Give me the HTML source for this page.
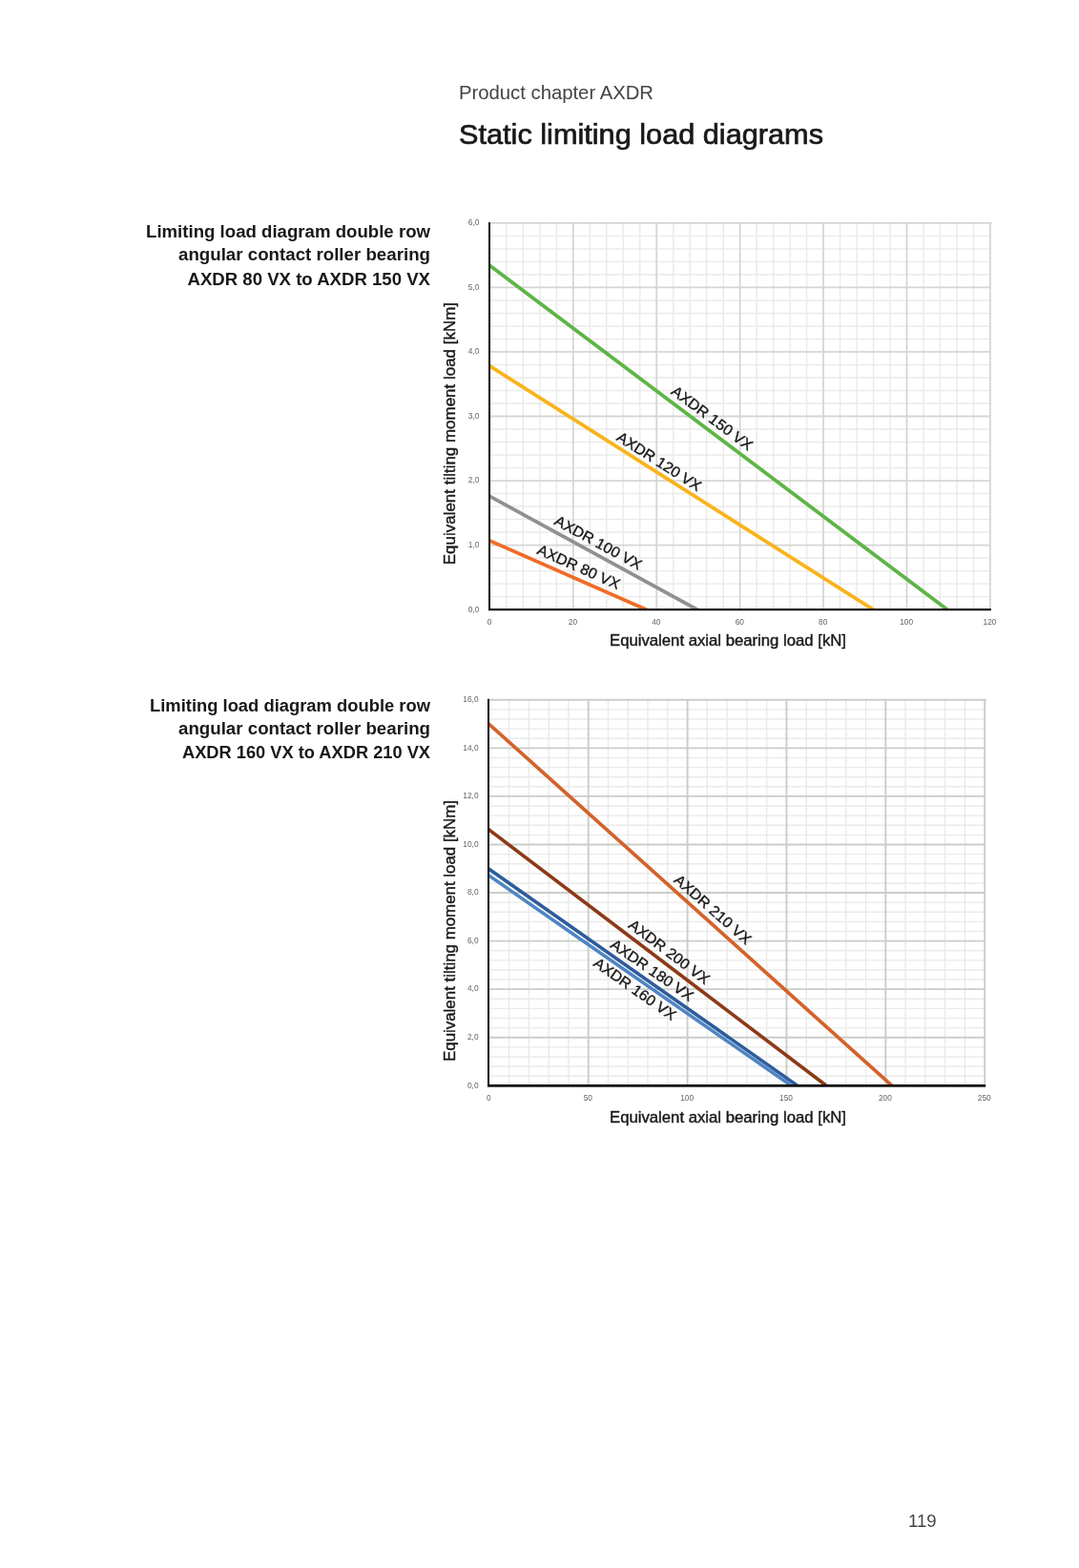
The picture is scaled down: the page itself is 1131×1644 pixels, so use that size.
<!DOCTYPE html>
<html lang="en">
<head>
<meta charset="utf-8">
<title>Static limiting load diagrams</title>
<style>
html,body{margin:0;padding:0;background:#fff;}
body{width:1131px;height:1644px;overflow:hidden;position:relative;font-family:"Liberation Sans", Arial, Helvetica, sans-serif;}
svg{position:absolute;left:0;top:0;display:block;}
svg text{font-family:"Liberation Sans", Arial, Helvetica, sans-serif;}
</style>
</head>
<body>
<svg width="1131" height="1644" viewBox="0 0 1131 1644">
<rect width="1131" height="1644" fill="#ffffff"/>
<text x="481" y="104" font-size="20.8" fill="#454343" textLength="204" lengthAdjust="spacingAndGlyphs">Product chapter AXDR</text>
<text x="481" y="151" font-size="29.8" fill="#1a1718" stroke="#1a1718" stroke-width="0.7" textLength="382" lengthAdjust="spacingAndGlyphs">Static limiting load diagrams</text>
<g font-size="18" font-weight="bold" fill="#1a1718" text-anchor="end">
<text x="451" y="248.8" textLength="298" lengthAdjust="spacingAndGlyphs">Limiting load diagram double row</text>
<text x="451" y="273.4" textLength="264" lengthAdjust="spacingAndGlyphs">angular contact roller bearing</text>
<text x="451" y="298.6" textLength="254.5" lengthAdjust="spacingAndGlyphs">AXDR 80 VX to AXDR 150 VX</text>
<text x="451" y="745.6" textLength="294" lengthAdjust="spacingAndGlyphs">Limiting load diagram double row</text>
<text x="451" y="769.6" textLength="264" lengthAdjust="spacingAndGlyphs">angular contact roller bearing</text>
<text x="451" y="795.3" textLength="260" lengthAdjust="spacingAndGlyphs">AXDR 160 VX to AXDR 210 VX</text>
</g>
<path d="M530.88 233.90V639.10M548.37 233.90V639.10M565.85 233.90V639.10M583.33 233.90V639.10M618.30 233.90V639.10M635.78 233.90V639.10M653.27 233.90V639.10M670.75 233.90V639.10M705.72 233.90V639.10M723.20 233.90V639.10M740.68 233.90V639.10M758.17 233.90V639.10M793.13 233.90V639.10M810.62 233.90V639.10M828.10 233.90V639.10M845.58 233.90V639.10M880.55 233.90V639.10M898.03 233.90V639.10M915.52 233.90V639.10M933.00 233.90V639.10M967.97 233.90V639.10M985.45 233.90V639.10M1002.93 233.90V639.10M1020.42 233.90V639.10M513.40 247.41H1037.90M513.40 260.91H1037.90M513.40 274.42H1037.90M513.40 287.93H1037.90M513.40 314.94H1037.90M513.40 328.45H1037.90M513.40 341.95H1037.90M513.40 355.46H1037.90M513.40 382.47H1037.90M513.40 395.98H1037.90M513.40 409.49H1037.90M513.40 422.99H1037.90M513.40 450.01H1037.90M513.40 463.51H1037.90M513.40 477.02H1037.90M513.40 490.53H1037.90M513.40 517.54H1037.90M513.40 531.05H1037.90M513.40 544.55H1037.90M513.40 558.06H1037.90M513.40 585.07H1037.90M513.40 598.58H1037.90M513.40 612.09H1037.90M513.40 625.59H1037.90" stroke="#eaeae9" stroke-width="1.4" fill="none"/>
<path d="M600.82 232.90V639.10M688.23 232.90V639.10M775.65 232.90V639.10M863.07 232.90V639.10M950.48 232.90V639.10M1037.90 232.90V639.10M513.40 233.90H1039.40M513.40 301.43H1038.80M513.40 368.97H1038.80M513.40 436.50H1038.80M513.40 504.03H1038.80M513.40 571.57H1038.80" stroke="#d5d6d4" stroke-width="1.8" fill="none"/>
<clipPath id="clip639"><rect x="513.00" y="228.90" width="529.90" height="410.20"/></clipPath>
<g clip-path="url(#clip639)">
<line x1="509.80" y1="275.63" x2="996.08" y2="641.50" stroke="#5fb446" stroke-width="3.8"/>
<line x1="509.62" y1="381.41" x2="918.63" y2="641.24" stroke="#f9b31b" stroke-width="3.8"/>
<line x1="509.49" y1="518.15" x2="734.27" y2="641.02" stroke="#8f9190" stroke-width="3.8"/>
<line x1="509.34" y1="565.17" x2="680.97" y2="640.71" stroke="#f06b26" stroke-width="3.8"/>
</g>
<path d="M513.00 232.90V639.10" stroke="#0c0a0b" stroke-width="2.0" fill="none"/>
<path d="M511.95 639.10H1038.90" stroke="#161314" stroke-width="2.3" fill="none"/>
<g font-size="8.15" fill="#666666">
<text transform="translate(502.5 236.30) scale(1.03 1)" text-anchor="end">6,0</text>
<text transform="translate(502.5 303.83) scale(1.03 1)" text-anchor="end">5,0</text>
<text transform="translate(502.5 371.37) scale(1.03 1)" text-anchor="end">4,0</text>
<text transform="translate(502.5 438.90) scale(1.03 1)" text-anchor="end">3,0</text>
<text transform="translate(502.5 506.43) scale(1.03 1)" text-anchor="end">2,0</text>
<text transform="translate(502.5 573.97) scale(1.03 1)" text-anchor="end">1,0</text>
<text transform="translate(502.5 641.50) scale(1.03 1)" text-anchor="end">0,0</text>
<text transform="translate(513.00 655.1) scale(1.02 1)" text-anchor="middle">0</text>
<text transform="translate(600.42 655.1) scale(1.02 1)" text-anchor="middle">20</text>
<text transform="translate(687.83 655.1) scale(1.02 1)" text-anchor="middle">40</text>
<text transform="translate(775.25 655.1) scale(1.02 1)" text-anchor="middle">60</text>
<text transform="translate(862.67 655.1) scale(1.02 1)" text-anchor="middle">80</text>
<text transform="translate(950.08 655.1) scale(1.02 1)" text-anchor="middle">100</text>
<text transform="translate(1037.50 655.1) scale(1.02 1)" text-anchor="middle">120</text>
</g>
<text transform="translate(702.6 412.3) rotate(36.7)" font-size="15.5" fill="#1a1718" stroke="#1a1718" stroke-width="0.35" textLength="101.5" lengthAdjust="spacingAndGlyphs">AXDR 150 VX</text>
<text transform="translate(645.2 460.9) rotate(32.5)" font-size="15.5" fill="#1a1718" stroke="#1a1718" stroke-width="0.35" textLength="101.5" lengthAdjust="spacingAndGlyphs">AXDR 120 VX</text>
<text transform="translate(580 549.3) rotate(28.5)" font-size="15.5" fill="#1a1718" stroke="#1a1718" stroke-width="0.35" textLength="101.5" lengthAdjust="spacingAndGlyphs">AXDR 100 VX</text>
<text transform="translate(562 580.3) rotate(24.0)" font-size="15.5" fill="#1a1718" stroke="#1a1718" stroke-width="0.35" textLength="93" lengthAdjust="spacingAndGlyphs">AXDR 80 VX</text>
<text x="763" y="676.8" font-size="16.3" fill="#1a1718" stroke="#1a1718" stroke-width="0.4" text-anchor="middle" textLength="248" lengthAdjust="spacingAndGlyphs">Equivalent axial bearing load [kN]</text>
<text transform="translate(476.6 454.6) rotate(-90)" font-size="16.3" fill="#1a1718" stroke="#1a1718" stroke-width="0.4" text-anchor="middle" textLength="275.2" lengthAdjust="spacingAndGlyphs">Equivalent tilting moment load [kNm]</text>
<path d="M533.58 733.80V1138.30M554.35 733.80V1138.30M575.13 733.80V1138.30M595.90 733.80V1138.30M637.46 733.80V1138.30M658.23 733.80V1138.30M679.01 733.80V1138.30M699.78 733.80V1138.30M741.34 733.80V1138.30M762.11 733.80V1138.30M782.89 733.80V1138.30M803.66 733.80V1138.30M845.22 733.80V1138.30M865.99 733.80V1138.30M886.77 733.80V1138.30M907.54 733.80V1138.30M949.10 733.80V1138.30M969.87 733.80V1138.30M990.65 733.80V1138.30M1011.42 733.80V1138.30M512.80 743.91H1032.20M512.80 754.02H1032.20M512.80 764.14H1032.20M512.80 774.25H1032.20M512.80 794.47H1032.20M512.80 804.59H1032.20M512.80 814.70H1032.20M512.80 824.81H1032.20M512.80 845.04H1032.20M512.80 855.15H1032.20M512.80 865.26H1032.20M512.80 875.38H1032.20M512.80 895.60H1032.20M512.80 905.71H1032.20M512.80 915.82H1032.20M512.80 925.94H1032.20M512.80 946.16H1032.20M512.80 956.27H1032.20M512.80 966.39H1032.20M512.80 976.50H1032.20M512.80 996.72H1032.20M512.80 1006.84H1032.20M512.80 1016.95H1032.20M512.80 1027.06H1032.20M512.80 1047.29H1032.20M512.80 1057.40H1032.20M512.80 1067.51H1032.20M512.80 1077.62H1032.20M512.80 1097.85H1032.20M512.80 1107.96H1032.20M512.80 1118.07H1032.20M512.80 1128.19H1032.20" stroke="#eaeae9" stroke-width="1.4" fill="none"/>
<path d="M616.68 732.80V1138.30M720.56 732.80V1138.30M824.44 732.80V1138.30M928.32 732.80V1138.30M1032.20 732.80V1138.30M512.80 733.80H1033.70M512.80 784.36H1033.10M512.80 834.92H1033.10M512.80 885.49H1033.10M512.80 936.05H1033.10M512.80 986.61H1033.10M512.80 1037.17H1033.10M512.80 1087.74H1033.10" stroke="#cacdc9" stroke-width="1.9" fill="none"/>
<clipPath id="clip1138"><rect x="512.00" y="728.80" width="525.20" height="409.50"/></clipPath>
<g clip-path="url(#clip1138)">
<line x1="509.02" y1="756.00" x2="937.95" y2="1140.97" stroke="#d2632b" stroke-width="3.7"/>
<line x1="508.81" y1="867.08" x2="869.39" y2="1140.72" stroke="#8c3a17" stroke-width="3.7"/>
<line x1="508.73" y1="908.52" x2="839.14" y2="1140.60" stroke="#2d5c9c" stroke-width="3.6"/>
<line x1="508.72" y1="915.37" x2="832.71" y2="1140.58" stroke="#4e84c3" stroke-width="3.6"/>
</g>
<path d="M512.00 732.80V1138.30" stroke="#0c0a0b" stroke-width="2.0" fill="none"/>
<path d="M510.95 1138.30H1033.20" stroke="#161314" stroke-width="2.8" fill="none"/>
<g font-size="8.15" fill="#666666">
<text transform="translate(501.6 736.00) scale(1.03 1)" text-anchor="end">16,0</text>
<text transform="translate(501.6 786.56) scale(1.03 1)" text-anchor="end">14,0</text>
<text transform="translate(501.6 837.12) scale(1.03 1)" text-anchor="end">12,0</text>
<text transform="translate(501.6 887.69) scale(1.03 1)" text-anchor="end">10,0</text>
<text transform="translate(501.6 938.25) scale(1.03 1)" text-anchor="end">8,0</text>
<text transform="translate(501.6 988.81) scale(1.03 1)" text-anchor="end">6,0</text>
<text transform="translate(501.6 1039.38) scale(1.03 1)" text-anchor="end">4,0</text>
<text transform="translate(501.6 1089.94) scale(1.03 1)" text-anchor="end">2,0</text>
<text transform="translate(501.6 1140.50) scale(1.03 1)" text-anchor="end">0,0</text>
<text transform="translate(512.40 1154.3) scale(1.02 1)" text-anchor="middle">0</text>
<text transform="translate(616.28 1154.3) scale(1.02 1)" text-anchor="middle">50</text>
<text transform="translate(720.16 1154.3) scale(1.02 1)" text-anchor="middle">100</text>
<text transform="translate(824.04 1154.3) scale(1.02 1)" text-anchor="middle">150</text>
<text transform="translate(927.92 1154.3) scale(1.02 1)" text-anchor="middle">200</text>
<text transform="translate(1031.80 1154.3) scale(1.02 1)" text-anchor="middle">250</text>
</g>
<text transform="translate(705.5 924.0) rotate(41.3)" font-size="15.5" fill="#1a1718" stroke="#1a1718" stroke-width="0.35" textLength="101.5" lengthAdjust="spacingAndGlyphs">AXDR 210 VX</text>
<text transform="translate(657.8 971.7) rotate(37)" font-size="15.5" fill="#1a1718" stroke="#1a1718" stroke-width="0.35" textLength="101.5" lengthAdjust="spacingAndGlyphs">AXDR 200 VX</text>
<text transform="translate(638.7 992.7) rotate(34.5)" font-size="15.5" fill="#1a1718" stroke="#1a1718" stroke-width="0.35" textLength="101.5" lengthAdjust="spacingAndGlyphs">AXDR 180 VX</text>
<text transform="translate(620.9 1012.0) rotate(35.1)" font-size="15.5" fill="#1a1718" stroke="#1a1718" stroke-width="0.35" textLength="101.5" lengthAdjust="spacingAndGlyphs">AXDR 160 VX</text>
<text x="763" y="1177" font-size="16.3" fill="#1a1718" stroke="#1a1718" stroke-width="0.4" text-anchor="middle" textLength="248" lengthAdjust="spacingAndGlyphs">Equivalent axial bearing load [kN]</text>
<text transform="translate(476.6 976) rotate(-90)" font-size="16.3" fill="#1a1718" stroke="#1a1718" stroke-width="0.4" text-anchor="middle" textLength="274" lengthAdjust="spacingAndGlyphs">Equivalent tilting moment load [kNm]</text>
<text x="981.5" y="1601" font-size="18.5" fill="#454343" text-anchor="end">119</text>
</svg>
</body>
</html>
